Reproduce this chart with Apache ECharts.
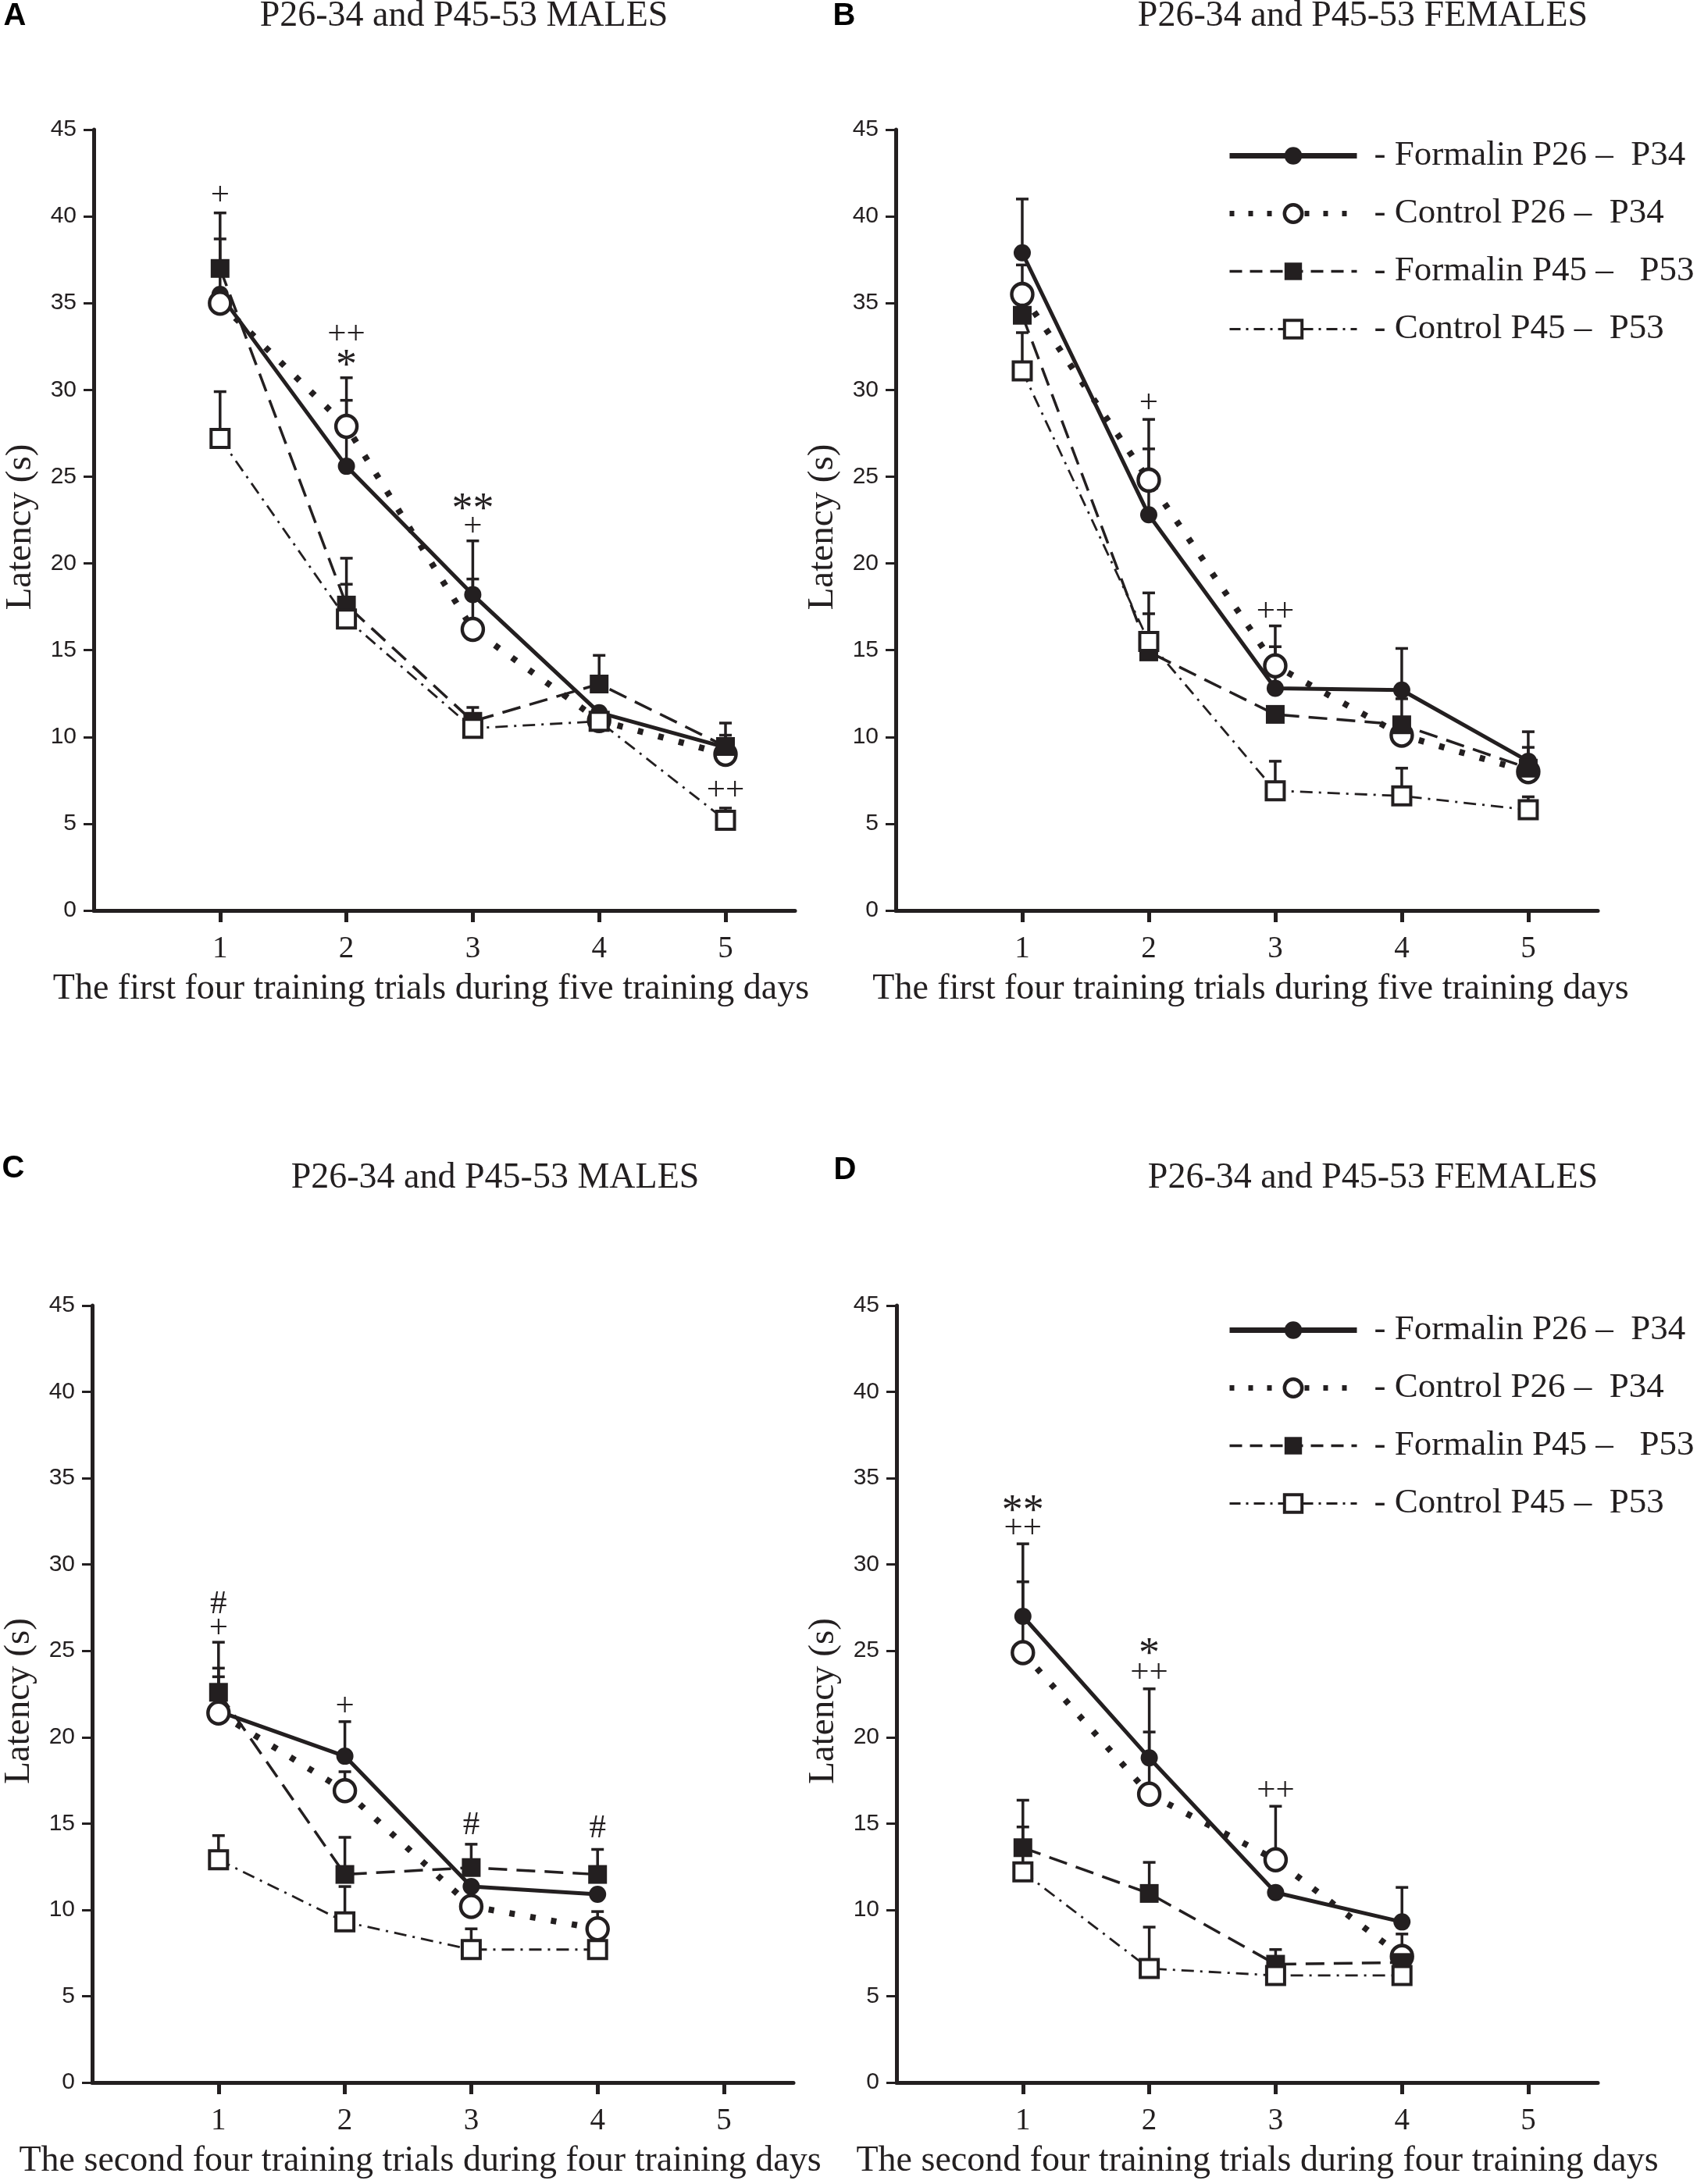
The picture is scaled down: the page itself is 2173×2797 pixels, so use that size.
<!DOCTYPE html>
<html><head><meta charset="utf-8">
<script src="https://cdn.jsdelivr.net/npm/echarts@6/dist/echarts.min.js"></script>
<style>html,body{margin:0;padding:0;background:#fff}#c{width:2173px;height:2797px}</style>
</head><body><div id="c"></div>
<script>
// ---------------- DATA ----------------
const days5 = [1, 2, 3, 4, 5];
const days4 = [1, 2, 3, 4];
const xTickValues = [1, 2, 3, 4, 5];
const seriesNames = ['- Formalin P26 –  P34', '- Control P26 –  P34', '- Formalin P45 –   P53', '- Control P45 –  P53'];
const panelTitles = ['P26-34 and P45-53 MALES', 'P26-34 and P45-53 FEMALES', 'P26-34 and P45-53 MALES', 'P26-34 and P45-53 FEMALES'];
const panelLetters = ['A', 'B', 'C', 'D'];
const xNames = ['The first four training trials during five training days', 'The first four training trials during five training days',
  'The second four training trials during four training days', 'The second four training trials during four training days'];
const yName = 'Latency (s)';

// Panel A
const A_F26 = [35.5, 25.6, 18.2, 11.4, 9.4];
const A_C26 = [35.0, 27.9, 16.2, 10.95, 9.0];
const A_F45 = [37.0, 17.6, 10.9, 13.05, 9.45];
const A_C45 = [27.2, 16.8, 10.5, 10.9, 5.2];
const A_F26_top = [38.7, 29.4, 21.3, null, 10.1];
const A_C26_top = [null, 30.7, 19.1, null, null];
const A_F45_top = [40.2, 20.3, 11.7, 14.7, 10.8];
const A_C45_top = [29.9, 18.8, null, null, 5.9];
const A_marks = [[1, 41.2, '+'], [2, 33.2, '++'], [2, 31.6, '*'], [3, 23.3, '**'], [3, 22.1, '+'], [5, 6.9, '++']];

// Panel B
const B_F26 = [37.9, 22.8, 12.8, 12.7, 8.6];
const B_C26 = [35.5, 24.8, 14.1, 10.1, 8.0];
const B_F45 = [34.3, 14.9, 11.3, 10.7, 8.2];
const B_C45 = [31.1, 15.5, 6.9, 6.6, 5.8];
const B_F26_top = [41.0, 26.6, 15.2, 15.1, 10.3];
const B_C26_top = [37.2, 28.3, 16.4, 12.2, null];
const B_F45_top = [null, 17.1, null, null, 9.4];
const B_C45_top = [33.3, 18.3, 8.6, 8.2, 6.55];
const B_marks = [[2, 29.2, '+'], [3, 17.2, '++']];

// Panel C
const C_F26 = [21.5, 18.9, 11.35, 10.9];
const C_C26 = [21.4, 16.9, 10.2, 8.9];
const C_F45 = [22.6, 12.05, 12.45, 12.05];
const C_C45 = [12.9, 9.3, 7.7, 7.7];
const C_F26_top = [24.0, 20.9, null, null];
const C_C26_top = [23.5, 18.0, null, 9.9];
const C_F45_top = [25.5, 14.2, 13.8, 13.5];
const C_C45_top = [14.3, 11.35, 8.9, null];
const C_marks = [[1, 27.7, '#'], [1, 26.3, '+'], [2, 21.75, '+'], [3, 14.9, '#'], [4, 14.7, '#']];

// Panel D
const D_F26 = [27.0, 18.8, 11.0, 9.3];
const D_C26 = [24.9, 16.7, 12.9, 7.3];
const D_F45 = [13.6, 10.95, 6.85, 6.95];
const D_C45 = [12.2, 6.6, 6.2, 6.2];
const D_F26_top = [31.2, 22.8, null, 11.3];
const D_C26_top = [29.0, 20.3, 16.0, 8.6];
const D_F45_top = [16.35, 12.75, 7.7, null];
const D_C45_top = [14.8, 9.0, null, null];
const D_marks = [[1, 33.3, '**'], [1, 32.1, '++'], [2, 25.0, '*'], [2, 23.7, '++'], [3, 16.9, '++']];

// ---------------- STYLE ----------------
const INK = '#231f20';
const SERIF = '"Liberation Serif", "Times New Roman", serif';
const SANS = '"Liberation Sans", Arial, sans-serif';

const lineStyles = [
  { symbol: 'circle', symbolSize: [22, 22], itemStyle: { color: INK, borderWidth: 0 }, lineStyle: { color: INK, width: 5, type: 'solid' } },
  { symbol: 'circle', symbolSize: [27, 28], itemStyle: { color: '#fff', borderColor: INK, borderWidth: 4.5 }, lineStyle: { color: INK, width: 8, type: [7, 20], cap: 'butt' } },
  { symbol: 'rect', symbolSize: [24, 24], itemStyle: { color: INK, borderWidth: 0 }, lineStyle: { color: INK, width: 3.5, type: [24, 12] } },
  { symbol: 'rect', symbolSize: [23, 23], itemStyle: { color: '#fff', borderColor: INK, borderWidth: 4 }, lineStyle: { color: INK, width: 2.8, type: [16, 8, 3, 8] } }
];
const legendLine = [
  { width: 7, type: 'solid' }, { width: 7, type: [6, 18] }, { width: 3.5, type: [16, 10] }, { width: 3, type: [14, 7, 3, 7] }
];

const panels = [
  { days: days5, vals: [A_F26, A_C26, A_F45, A_C45], tops: [A_F26_top, A_C26_top, A_F45_top, A_C45_top], marks: A_marks },
  { days: days5, vals: [B_F26, B_C26, B_F45, B_C45], tops: [B_F26_top, B_C26_top, B_F45_top, B_C45_top], marks: B_marks },
  { days: days4, vals: [C_F26, C_C26, C_F45, C_C45], tops: [C_F26_top, C_C26_top, C_F45_top, C_C45_top], marks: C_marks },
  { days: days4, vals: [D_F26, D_C26, D_F45, D_C45], tops: [D_F26_top, D_C26_top, D_F45_top, D_C45_top], marks: D_marks }
];

const grids = [
  { left: 120, top: 166, width: 898, height: 1000 },
  { left: 1147, top: 166, width: 899, height: 1000 },
  { left: 118, top: 1672, width: 898, height: 995 },
  { left: 1148, top: 1672, width: 898, height: 995 }
];
const xNamePad = [[0, 34, 0, 0], [0, 0, 0, 10], [0, 58, 0, 0], [0, 0, 0, 26]];
const titlePos = [[594, 21], [1745, 21], [634, 1509], [1758, 1509]];
const letterPos = [[19, 21], [1081, 21], [17, 1497], [1082, 1499]];

const xAxes = grids.map((g, i) => ({
  type: 'value', gridIndex: i, min: 0, max: 5.55,
  name: xNames[i], nameLocation: 'middle', nameGap: 78,
  nameTextStyle: { fontFamily: SERIF, fontSize: 46, color: INK, padding: xNamePad[i] },
  axisLine: { show: true, onZero: false, lineStyle: { color: INK, width: 5 } },
  axisTick: { show: true, length: 15, lineStyle: { color: INK, width: 5 }, customValues: xTickValues },
  axisLabel: { show: true, margin: 30, fontFamily: SERIF, fontSize: 39, color: INK, customValues: xTickValues },
  splitLine: { show: false }
}));
const yAxes = grids.map((g, i) => ({
  type: 'value', gridIndex: i, min: 0, max: 45, interval: 5,
  name: yName, nameLocation: 'middle', nameGap: 70,
  nameTextStyle: { fontFamily: SERIF, fontSize: 47, color: INK, padding: [0, 18, 0, 0] },
  axisLine: { show: true, lineStyle: { color: INK, width: 5 } },
  axisTick: { show: true, length: 13, lineStyle: { color: INK, width: 3 } },
  axisLabel: { show: true, margin: 22, fontFamily: SANS, fontSize: 30, color: INK },
  splitLine: { show: false }
}));

const series = [];
panels.forEach((p, gi) => {
  // error bars
  const errData = [];
  p.vals.forEach((arr, si) => {
    arr.forEach((v, k) => {
      const t = p.tops[si][k];
      if (t != null) errData.push([p.days[k], v, t]);
    });
  });
  series.push({
    type: 'custom', xAxisIndex: gi, yAxisIndex: gi, z: 1, silent: true,
    encode: { x: 0, y: [1, 2] },
    data: errData,
    renderItem: function (params, api) {
      const x = api.value(0);
      const p0 = api.coord([x, api.value(1)]);
      const p1 = api.coord([x, api.value(2)]);
      const hw = 8;
      const st = { stroke: INK, lineWidth: 3.5 };
      return {
        type: 'group', children: [
          { type: 'line', shape: { x1: p0[0], y1: p0[1], x2: p1[0], y2: p1[1] }, style: st },
          { type: 'line', shape: { x1: p1[0] - hw, y1: p1[1], x2: p1[0] + hw, y2: p1[1] }, style: st }
        ]
      };
    }
  });
  // lines
  p.vals.forEach((arr, si) => {
    const s = lineStyles[si];
    series.push({
      type: 'line', name: seriesNames[si], xAxisIndex: gi, yAxisIndex: gi, z: 3 + si,
      data: p.days.map((d, k) => [d, arr[k]]),
      symbol: s.symbol, symbolSize: s.symbolSize, showAllSymbol: true,
      itemStyle: s.itemStyle, lineStyle: s.lineStyle,
      emphasis: { disabled: true }
    });
  });
  // significance marks
  series.push({
    type: 'custom', xAxisIndex: gi, yAxisIndex: gi, z: 10, silent: true,
    encode: { x: 0, y: 1 },
    data: p.marks,
    renderItem: function (params, api) {
      const pt = api.coord([api.value(0), api.value(1)]);
      const txt = p.marks[params.dataIndex][2];
      const isStar = txt.indexOf('*') >= 0;
      const fs = isStar ? 54 : 43;
      return {
        type: 'text', x: pt[0], y: pt[1] + (isStar ? 6 : 0),
        style: { text: txt, fill: INK, font: fs + 'px ' + SERIF, align: 'center', verticalAlign: 'middle', textAlign: 'center', textVerticalAlign: 'middle' }
      };
    }
  });
});

const legendData = seriesNames.map((n, i) => ({
  name: n,
  itemStyle: Object.assign({}, lineStyles[i].itemStyle, { borderColor: INK }),
  lineStyle: { color: INK, width: legendLine[i].width, type: legendLine[i].type }
}));
const legends = [177, 1681].map(top => ({
  show: true, orient: 'vertical', left: 1571, top: top,
  itemWidth: 163, itemHeight: 28, itemGap: 29, padding: 0,
  selectedMode: false,
  data: legendData,
  textStyle: { fontFamily: SERIF, fontSize: 45, color: INK, padding: [0, 0, 0, 17] }
}));

const graphics = [];
panelTitles.forEach((t, i) => {
  graphics.push({ type: 'text', x: titlePos[i][0], y: titlePos[i][1], style: { text: t, fill: INK, font: '46px ' + SERIF, textAlign: 'center', textVerticalAlign: 'middle' } });
  graphics.push({ type: 'text', x: letterPos[i][0], y: letterPos[i][1], style: { text: panelLetters[i], fill: '#000', font: 'bold 40px ' + SANS, textAlign: 'center', textVerticalAlign: 'middle' } });
});

const chart = echarts.init(document.getElementById('c'), null, { renderer: 'canvas' });
chart.setOption({
  backgroundColor: '#fff',
  animation: false,
  grid: grids.map(g => Object.assign({ outerBoundsMode: 'none', containLabel: false }, g)),
  xAxis: xAxes,
  yAxis: yAxes,
  legend: legends,
  series: series,
  graphic: graphics
});
</script></body></html>
